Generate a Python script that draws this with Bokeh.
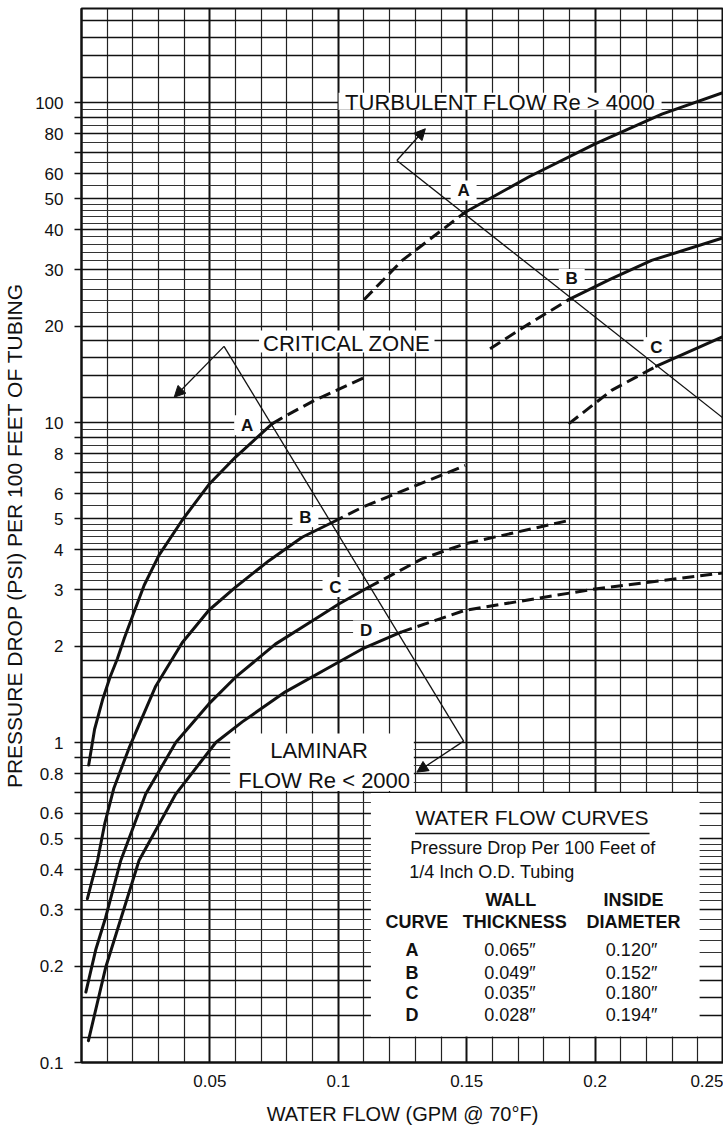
import math
from bokeh.plotting import figure
from bokeh.models import Range1d, FixedTicker, CustomJSTickFormatter, Label, Arrow, NormalHead
from bokeh.embed import file_html
from bokeh.resources import INLINE

FONT = "Liberation Sans"
INK = "#111111"

# ---------------- data (x: water flow GPM, y: pressure drop PSI / 100 ft) ----------------
# Laminar branches (solid part, then dashed critical-zone continuation)
A_LAM_SOLID_X = [0.0028, 0.0051, 0.0082, 0.0111, 0.014, 0.0167, 0.0196, 0.0244, 0.0302, 0.0392, 0.0496, 0.060, 0.0742]
A_LAM_SOLID_Y = [0.85, 1.1, 1.36, 1.6, 1.83, 2.12, 2.45, 3.1, 3.85, 4.95, 6.4, 7.8, 9.9]
A_LAM_DASH_X = [0.0742, 0.0786, 0.0914, 0.110]
A_LAM_DASH_Y = [9.9, 10.4, 11.8, 13.8]

B_LAM_SOLID_X = [0.0023, 0.0045, 0.0063, 0.0091, 0.0126, 0.0185, 0.0289, 0.0392, 0.0496, 0.060, 0.073, 0.0859, 0.0976]
B_LAM_SOLID_Y = [0.325, 0.38, 0.43, 0.56, 0.72, 0.96, 1.5, 2.05, 2.59, 3.06, 3.7, 4.38, 4.87]
B_LAM_DASH_X = [0.0976, 0.1093, 0.1494]
B_LAM_DASH_Y = [4.87, 5.43, 7.34]

C_LAM_SOLID_X = [0.0017, 0.0056, 0.0094, 0.0153, 0.025, 0.0367, 0.0496, 0.060, 0.0755, 0.0924, 0.1002, 0.1116]
C_LAM_SOLID_Y = [0.166, 0.226, 0.284, 0.428, 0.69, 1.0, 1.32, 1.6, 2.03, 2.47, 2.71, 3.05]
C_LAM_DASH_X = [0.1116, 0.1326, 0.1494, 0.1897]
C_LAM_DASH_Y = [3.05, 3.75, 4.18, 4.94]

D_LAM_SOLID_X = [0.0027, 0.0094, 0.0224, 0.0367, 0.0523, 0.0626, 0.0794, 0.0988, 0.1093, 0.1242]
D_LAM_SOLID_Y = [0.117, 0.198, 0.428, 0.69, 1.0, 1.16, 1.44, 1.76, 1.96, 2.21]
D_LAM_DASH_X = [0.1242, 0.1494, 0.200, 0.250]
D_LAM_DASH_Y = [2.21, 2.59, 3.02, 3.39]

# Turbulent branches (dashed critical-zone part, then solid)
A_TURB_DASH_X = [0.110, 0.1249, 0.1494]
A_TURB_DASH_Y = [24.2, 32.1, 45.4]
A_TURB_SOLID_X = [0.1494, 0.1741, 0.200, 0.226, 0.250]
A_TURB_SOLID_Y = [45.4, 58.5, 74.3, 92.0, 107.5]

B_TURB_DASH_X = [0.1591, 0.1741, 0.1897]
B_TURB_DASH_Y = [17.0, 20.3, 24.2]
B_TURB_SOLID_X = [0.1897, 0.2058, 0.222, 0.250]
B_TURB_SOLID_Y = [24.2, 28.0, 32.1, 37.8]

C_TURB_DASH_X = [0.1897, 0.2064, 0.2239]
C_TURB_DASH_Y = [9.9, 12.6, 15.0]
C_TURB_SOLID_X = [0.2239, 0.250]
C_TURB_SOLID_Y = [15.0, 18.6]

# Zone boundary lines (apex / vertex points) and arrows (x0, y0, x1, y1)
CRIT_LINE_X = [0.0555, 0.1488]
CRIT_LINE_Y = [17.3, 1.01]
CRIT_ARROW = (0.0555, 17.3, 0.0361, 12.0)
LAM_ARROW = (0.1488, 1.01, 0.1306, 0.808)
TURB_LINE_X = [0.1228, 0.250]
TURB_LINE_Y = [65.9, 10.3]
TURB_ARROW = (0.1228, 65.9, 0.1339, 82.8)

# Axis ticks
X_TICK_LABELS = [0.05, 0.1, 0.15, 0.2, 0.25]
Y_TICK_LABELS = [0.1, 0.2, 0.3, 0.4, 0.5, 0.6, 0.8, 1, 2, 3, 4, 5, 6, 8, 10, 20, 30, 40, 50, 60, 80, 100]
Y_TICK_UNLABELED = [0.7, 0.9, 7, 9, 70, 90]

# Log-paper grid
X_GRID_MAJOR = [0.05, 0.1, 0.15, 0.2]
X_GRID_MINOR = [round(0.01 * i, 2) for i in range(1, 25) if i % 5]
DECADES = [0.1, 1, 10]
Y_GRID_MAJOR = [m * d for d in DECADES for m in (1, 1.2, 1.4, 1.6, 1.8, 2, 3, 4, 5, 6, 7, 8, 9)] + [100, 120, 140, 160, 180]
Y_GRID_MINOR = [m * d for d in DECADES for m in (2.2, 2.4, 2.6, 2.8, 3.2, 3.4, 3.6, 3.8, 4.2, 4.4, 4.6, 4.8, 5.5, 6.5, 7.5, 8.5, 9.5)]

# Legend table
LEGEND_CURVES = ["A", "B", "C", "D"]
LEGEND_WALL = ["0.065\u2033", "0.049\u2033", "0.035\u2033", "0.028\u2033"]
LEGEND_ID = ["0.120\u2033", "0.152\u2033", "0.180\u2033", "0.194\u2033"]
LEGEND_ROW_Y = [0.2239, 0.1910, 0.1643, 0.1403]

X_MAX = 0.25
Y_MIN, Y_MAX = 0.1, 196.7
FRAME_W, FRAME_H = 644, 1054

p = figure(width=723, height=1132,
           x_range=Range1d(0, X_MAX), y_range=Range1d(Y_MIN, Y_MAX),
           y_axis_type="log", output_backend="svg", toolbar_location=None,
           min_border_left=79, min_border_right=0, min_border_top=8, min_border_bottom=70)
p.background_fill_color = "white"
p.border_fill_color = "white"
p.outline_line_color = INK
p.outline_line_width = 2

# grid
p.xgrid.ticker = FixedTicker(ticks=X_GRID_MAJOR, minor_ticks=X_GRID_MINOR)
p.xgrid.grid_line_color = INK
p.xgrid.grid_line_width = 2
p.xgrid.minor_grid_line_color = "#222222"
p.xgrid.minor_grid_line_width = 1.2
p.ygrid.ticker = FixedTicker(ticks=Y_GRID_MAJOR, minor_ticks=Y_GRID_MINOR)
p.ygrid.grid_line_color = INK
p.ygrid.grid_line_width = 1.5
p.ygrid.minor_grid_line_color = "#333333"
p.ygrid.minor_grid_line_width = 1

plain = CustomJSTickFormatter(code="return String(parseFloat(tick.toPrecision(6)));")

# axes
p.yaxis.ticker = FixedTicker(ticks=Y_TICK_LABELS, minor_ticks=Y_TICK_UNLABELED)
p.yaxis.formatter = plain
p.yaxis.major_tick_in = 0
p.yaxis.major_tick_out = 7
p.yaxis.minor_tick_in = 0
p.yaxis.minor_tick_out = 7
p.yaxis.major_tick_line_width = 1.5
p.yaxis.minor_tick_line_width = 1.5
p.yaxis.major_tick_line_color = INK
p.yaxis.minor_tick_line_color = INK
p.yaxis.axis_line_width = 2
p.yaxis.axis_line_color = INK
p.yaxis.major_label_standoff = 11
p.yaxis.major_label_text_font = FONT
p.yaxis.major_label_text_font_size = "17px"
p.yaxis.major_label_text_color = INK
p.yaxis.axis_label = "PRESSURE DROP (PSI) PER 100 FEET OF TUBING"
p.yaxis.axis_label_text_font = FONT
p.yaxis.axis_label_text_font_style = "normal"
p.yaxis.axis_label_text_font_size = "21px"
p.yaxis.axis_label_text_color = INK
p.yaxis.axis_label_standoff = 6

p.xaxis.ticker = FixedTicker(ticks=X_TICK_LABELS)
p.xaxis.formatter = plain
p.xaxis.major_tick_in = 0
p.xaxis.major_tick_out = 0
p.xaxis.minor_tick_in = 0
p.xaxis.minor_tick_out = 0
p.xaxis.axis_line_width = 2
p.xaxis.axis_line_color = INK
p.xaxis.major_label_standoff = 12
p.xaxis.major_label_text_font = FONT
p.xaxis.major_label_text_font_size = "17px"
p.xaxis.major_label_text_color = INK
p.xaxis.axis_label = "WATER FLOW (GPM @ 70\u00b0F)"
p.xaxis.axis_label_text_font = FONT
p.xaxis.axis_label_text_font_style = "normal"
p.xaxis.axis_label_text_font_size = "20px"
p.xaxis.axis_label_text_color = INK
p.xaxis.axis_label_standoff = 13

# ---- white boxes that hide the grid behind the notes (drawn under the curves) ----
PX_X = X_MAX / FRAME_W
DEC_PER_PX = math.log10(Y_MAX / Y_MIN) / FRAME_H


def box(xc, yc, half_w_px, half_h_px):
    p.quad(left=[xc - half_w_px * PX_X], right=[xc + half_w_px * PX_X],
           bottom=[yc * 10 ** (-half_h_px * DEC_PER_PX)], top=[yc * 10 ** (half_h_px * DEC_PER_PX)],
           fill_color="white", line_color=None)


p.quad(left=[0.1127], right=[0.2407], bottom=[0.1206], top=[0.695], fill_color="white", line_color=None)   # legend table
p.quad(left=[0.0579], right=[0.1294], bottom=[0.705], top=[1.067], fill_color="white", line_color=None)    # laminar note
TURB_NOTE = (0.1630, 101.0)
CRIT_NOTE = (0.1033, 17.9)
box(*TURB_NOTE, 162, 8.5)
box(*CRIT_NOTE, 88, 11)
CURVE_TAGS = [(0.0645, 9.8, "A"), (0.0872, 5.06, "B"), (0.0989, 3.06, "C"), (0.1108, 2.24, "D"),
              (0.1488, 53.1, "A"), (0.1909, 28.1, "B"), (0.2239, 17.2, "C")]
for x, y, _ in CURVE_TAGS:
    box(x, y, 13, 10)

# curves
CW = 3
DASH = "12 6"
for xs, ys in [(A_LAM_SOLID_X, A_LAM_SOLID_Y), (B_LAM_SOLID_X, B_LAM_SOLID_Y), (C_LAM_SOLID_X, C_LAM_SOLID_Y),
               (D_LAM_SOLID_X, D_LAM_SOLID_Y), (A_TURB_SOLID_X, A_TURB_SOLID_Y), (B_TURB_SOLID_X, B_TURB_SOLID_Y),
               (C_TURB_SOLID_X, C_TURB_SOLID_Y)]:
    p.line(xs, ys, line_width=CW, line_color=INK, line_cap="round", line_join="round")
for xs, ys in [(A_LAM_DASH_X, A_LAM_DASH_Y), (B_LAM_DASH_X, B_LAM_DASH_Y), (C_LAM_DASH_X, C_LAM_DASH_Y),
               (D_LAM_DASH_X, D_LAM_DASH_Y), (A_TURB_DASH_X, A_TURB_DASH_Y), (B_TURB_DASH_X, B_TURB_DASH_Y),
               (C_TURB_DASH_X, C_TURB_DASH_Y)]:
    p.line(xs, ys, line_width=CW, line_color=INK, line_dash=DASH)

# zone boundary lines and arrows
p.line(CRIT_LINE_X, CRIT_LINE_Y, line_width=1.3, line_color=INK)
p.line(TURB_LINE_X, TURB_LINE_Y, line_width=1.3, line_color=INK)
for (x0, y0, x1, y1) in [CRIT_ARROW, LAM_ARROW, TURB_ARROW]:
    p.add_layout(Arrow(end=NormalHead(size=11, fill_color=INK, line_color=INK, line_width=1),
                       x_start=x0, y_start=y0, x_end=x1, y_end=y1,
                       line_width=1.3, line_color=INK))


def lab(x, y, text, size="22px", style="normal", align="center"):
    p.add_layout(Label(x=x, y=y, text=text, text_font=FONT, text_font_size=size, text_font_style=style,
                       text_color=INK, text_align=align, text_baseline="middle"))


# zone notes
lab(TURB_NOTE[0], 100, "TURBULENT FLOW Re > 4000")
lab(CRIT_NOTE[0], 17.7, "CRITICAL ZONE")
lab(0.0925, 0.944, "LAMINAR")
lab(0.0945, 0.760, "FLOW Re < 2000")

# curve letters
for x, y, t in CURVE_TAGS:
    lab(x, y, t, size="17px", style="bold")

# legend table
lab(0.1754, 0.583, "WATER FLOW CURVES", size="21px")
p.line([0.1299, 0.2212], [0.5195, 0.5195], line_width=1.5, line_color=INK)
lab(0.1757, 0.4667, "Pressure Drop Per 100 Feet of", size="18px")
lab(0.1276, 0.395, "1/4 Inch O.D. Tubing", size="18px", align="left")
lab(0.1672, 0.321, "WALL", size="18px", style="bold")
lab(0.2150, 0.321, "INSIDE", size="18px", style="bold")
lab(0.1306, 0.274, "CURVE", size="18px", style="bold")
lab(0.1687, 0.274, "THICKNESS", size="18px", style="bold")
lab(0.2150, 0.274, "DIAMETER", size="18px", style="bold")
for c, w, d, y in zip(LEGEND_CURVES, LEGEND_WALL, LEGEND_ID, LEGEND_ROW_Y):
    lab(0.1287, y, c, size="18px", style="bold")
    lab(0.1668, y, w, size="18px")
    lab(0.2142, y, d, size="18px")

open("out.html", "w").write(file_html(p, INLINE))
